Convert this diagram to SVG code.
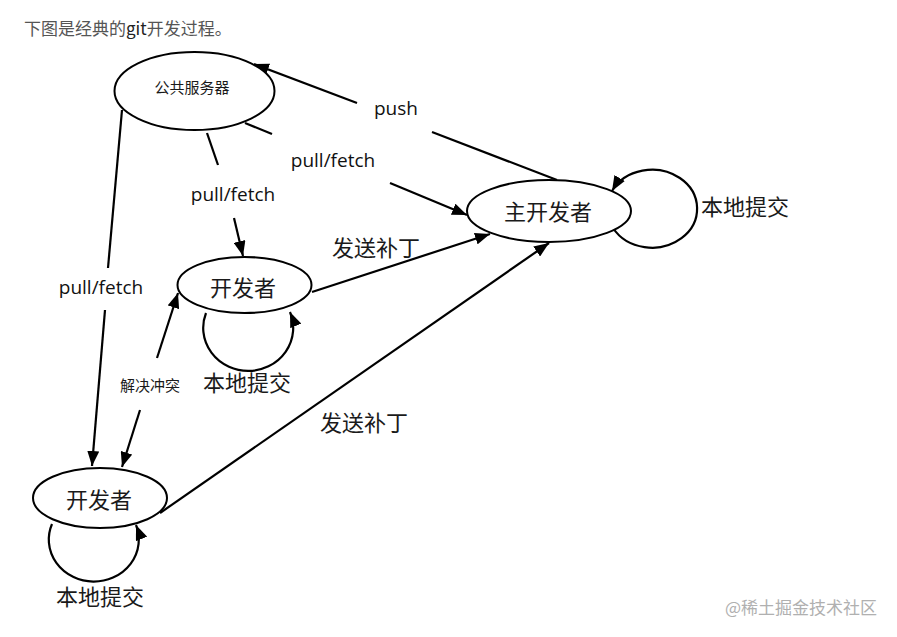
<svg xmlns="http://www.w3.org/2000/svg" width="897" height="637" viewBox="0 0 897 637">
<defs>
<marker id="arr" markerUnits="userSpaceOnUse" markerWidth="16" markerHeight="12" refX="15" refY="6" orient="auto">
<path d="M0,0 L15,6 L0,12 Z" fill="#000"/>
</marker>
<style>
.node{fill:#fff;stroke:#000;stroke-width:2}
.edge{fill:none;stroke:#000;stroke-width:2.2}
.cjk{font-family:"Noto Sans CJK SC","Noto Sans",sans-serif;fill:#1a1a1a;text-anchor:middle}
.lat{font-family:"Open Sans","Liberation Sans",sans-serif;fill:#111;text-anchor:middle;font-size:19px}
</style>
</defs>
<rect width="897" height="637" fill="#fff"/>
<text x="24" y="35" font-family="'Noto Sans CJK SC','Noto Sans',sans-serif" font-size="17" fill="#555">下图是经典的<tspan fill="#222">git</tspan>开发过程。</text>

<g id="connectors">
<path class="edge" d="M557,180 L432,132"/>
<path class="edge" d="M357,103 L254,64" marker-end="url(#arr)"/>
<path class="edge" d="M245,123 L272,134"/>
<path class="edge" d="M390,183 L467,215" marker-end="url(#arr)"/>
<path class="edge" d="M207,133 L218,165"/>
<path class="edge" d="M234,218 L243,256" marker-end="url(#arr)"/>
<path class="edge" d="M122,110 L108,268"/>
<path class="edge" d="M105,310 L92,466" marker-end="url(#arr)"/>
<path class="edge" d="M157,358 L178,293" marker-end="url(#arr)"/>
<path class="edge" d="M140,410 L122,467" marker-end="url(#arr)"/>
<path class="edge" d="M312,292 L490,234" marker-end="url(#arr)"/>
<path class="edge" d="M160,513 L549,243" marker-end="url(#arr)"/>
<path class="edge" d="M613,228 A45,39 0 1,0 612,191" marker-end="url(#arr)"/>
<path class="edge" d="M206,313 A45,43 0 1,0 290,312" marker-end="url(#arr)"/>
<path class="edge" d="M52,524 A45,42 0 1,0 136,525" marker-end="url(#arr)"/>
</g>

<g id="server">
<ellipse class="node" cx="194.5" cy="91" rx="80" ry="39"/>
<text class="cjk" x="192" y="93" font-size="15">公共服务器</text>
</g>
<g id="main-dev">
<ellipse class="node" cx="549" cy="211" rx="82" ry="31"/>
<text class="cjk" x="548" y="220" font-size="22">主开发者</text>
</g>
<g id="dev1">
<ellipse class="node" cx="244.5" cy="285" rx="67" ry="28"/>
<text class="cjk" x="243" y="296" font-size="22">开发者</text>
</g>
<g id="dev2">
<ellipse class="node" cx="100" cy="498" rx="67" ry="30"/>
<text class="cjk" x="99" y="508" font-size="22">开发者</text>
</g>

<g id="labels">
<text class="lat" x="396" y="115">push</text>
<text class="lat" x="333" y="167">pull/fetch</text>
<text class="lat" x="233" y="201">pull/fetch</text>
<text class="lat" x="101" y="294">pull/fetch</text>
<text class="cjk" x="150" y="391" font-size="15">解决冲突</text>
<text class="cjk" x="376" y="256" font-size="22">发送补丁</text>
<text class="cjk" x="364" y="431" font-size="22">发送补丁</text>
<text class="cjk" x="745" y="215" font-size="22">本地提交</text>
<text class="cjk" x="247" y="391" font-size="22">本地提交</text>
<text class="cjk" x="100" y="605" font-size="22">本地提交</text>
</g>
<text x="877" y="614" text-anchor="end" font-family="'Noto Sans CJK SC',sans-serif" font-size="17" fill="#b0b0b0">@稀土掘金技术社区</text>
</svg>
